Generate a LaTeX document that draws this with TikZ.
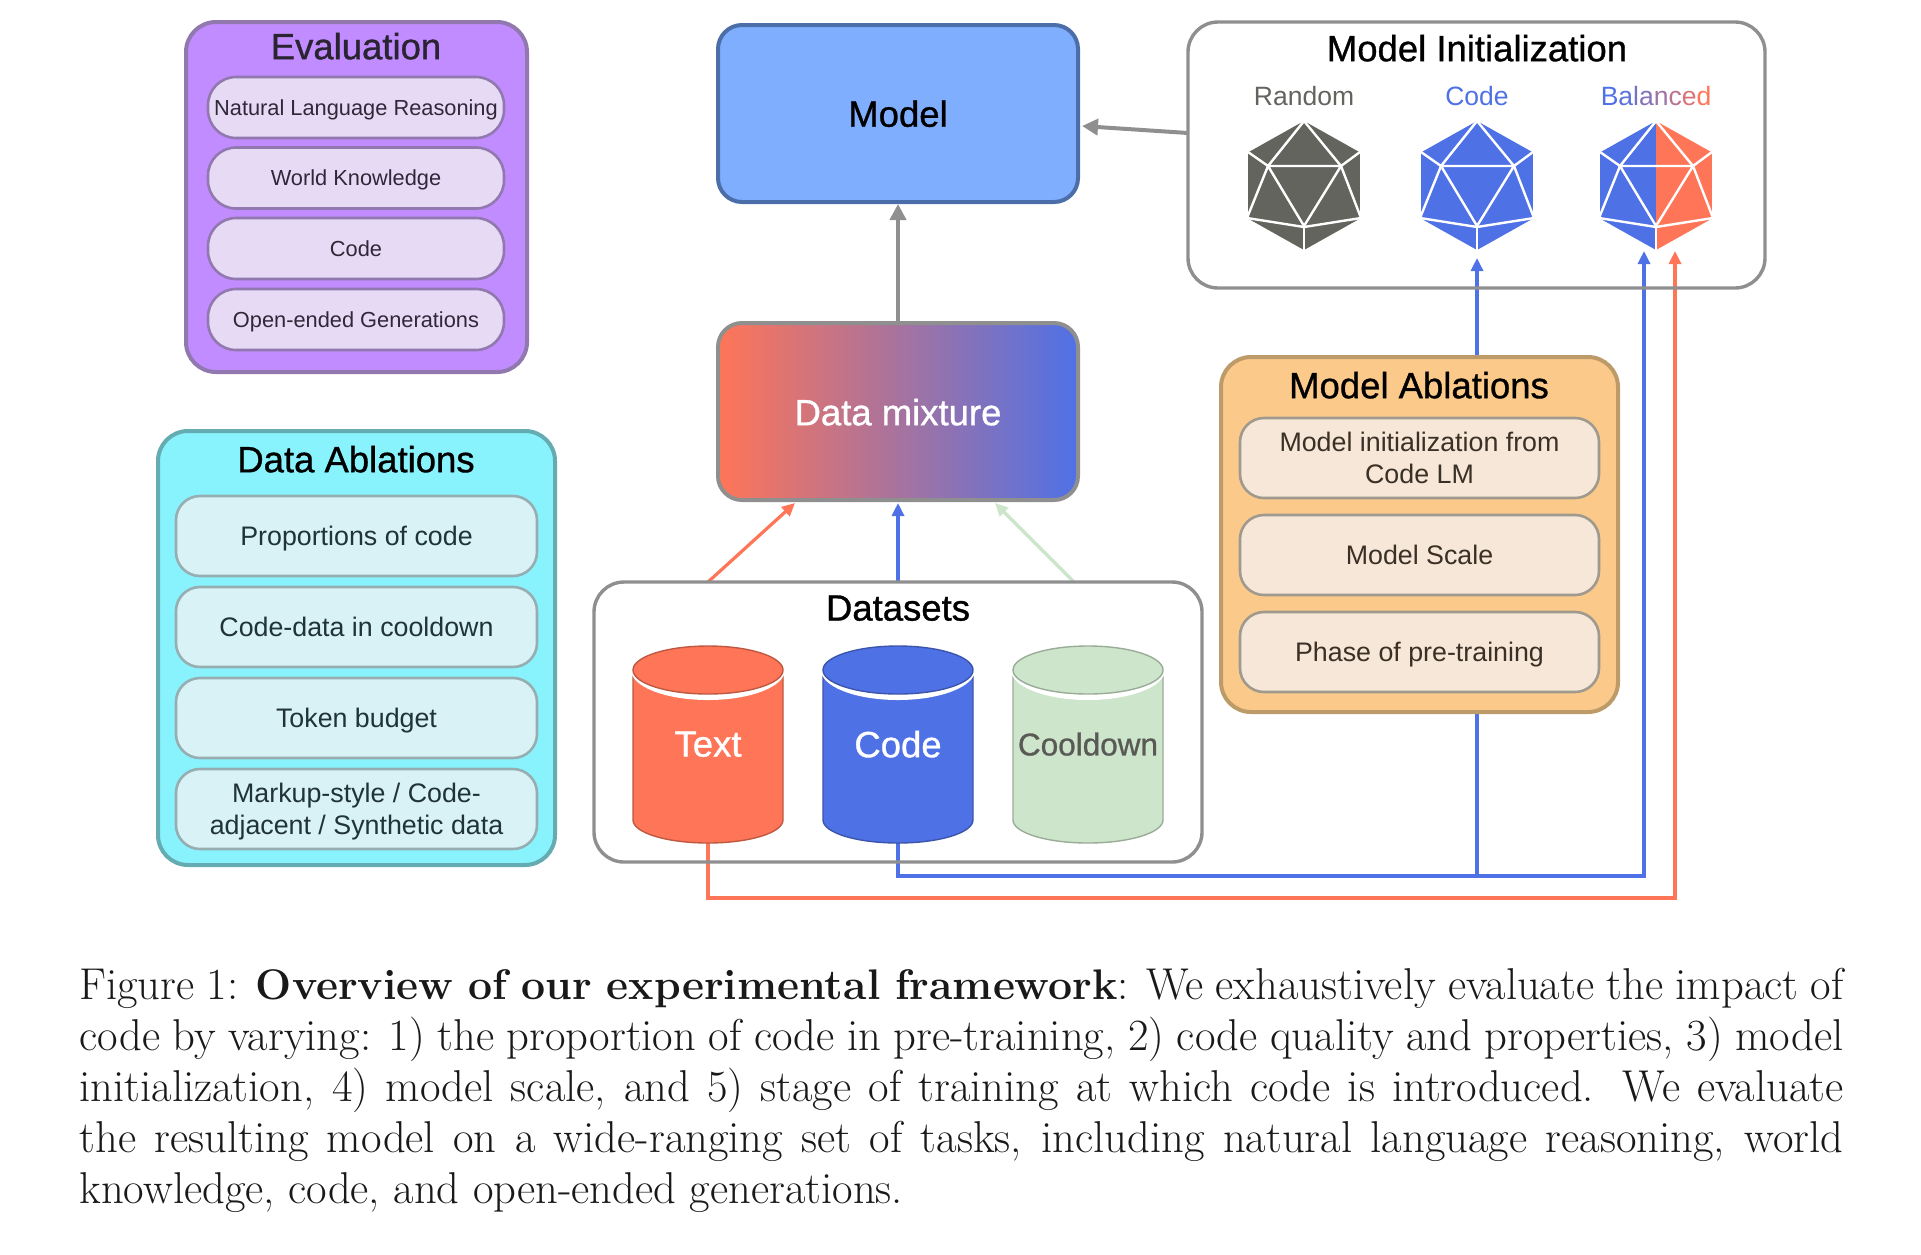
\documentclass[tikz,border=0pt]{standalone}
\usepackage{fontspec}
\setsansfont{Liberation Sans}
\newfontfamily\titlefont[FakeBold=0.9]{Liberation Sans}
\usetikzlibrary{arrows.meta}
\pgfdeclarelayer{conn}
\pgfsetlayers{conn,main}
\definecolor{cOrange}{HTML}{FF7557}
\definecolor{cBlue}{HTML}{4F71E6}
\definecolor{cGreen}{HTML}{CDE5CB}
\definecolor{cGrey}{HTML}{8F8F8F}
\definecolor{cDark}{HTML}{63645E}
\definecolor{cE}{HTML}{E7DAF5}
\definecolor{cEt}{HTML}{2F2838}
\definecolor{cD}{HTML}{D9F2F6}
\definecolor{cDs}{HTML}{96AEB2}
\definecolor{cDt}{HTML}{1F3338}
\definecolor{cM}{HTML}{F6E7D8}
\definecolor{cMs}{HTML}{A09A8E}
\definecolor{cMt}{HTML}{3A3026}
\definecolor{cEv}{HTML}{C18CFF}
\definecolor{cEvS}{HTML}{9179AF}
\definecolor{cDa}{HTML}{88F2FD}
\definecolor{cDaS}{HTML}{64ABB2}
\definecolor{cMo}{HTML}{7FAEFF}
\definecolor{cMoS}{HTML}{4C6EA8}
\definecolor{cMa}{HTML}{FBC98A}
\definecolor{cMaS}{HTML}{BD9B68}
\tikzset{
  x=1pt,y=-1pt,
  every node/.style={inner sep=0pt,outer sep=0pt,font=\sffamily,text depth=0pt},
  frame/.style={draw=cGrey,line width=3.4pt,rounded corners=30pt},
  titletxt/.style={font=\titlefont\fontsize{36.5}{40}\selectfont},
  pilltxt/.style={font=\sffamily\fontsize{26.8}{32}\selectfont,align=center},
  smalltxt/.style={font=\sffamily\fontsize{21.8}{27}\selectfont,align=center},
  evalpill/.style={draw=cEvS,fill=cE,line width=2.6pt,rounded corners=28pt,text=cEt,minimum width=296pt,minimum height=61pt,smalltxt},
  dapill/.style={draw=cDs,fill=cD,line width=2.6pt,rounded corners=24pt,text=cDt,minimum width=361pt,minimum height=80pt,pilltxt},
  mapill/.style={draw=cMs,fill=cM,line width=2.6pt,rounded corners=24pt,text=cMt,minimum width=359pt,minimum height=80pt,pilltxt},
  greyarrow/.style={draw=cGrey,line width=4pt,-{Triangle[length=16pt,width=16pt]}},
  bluearrow/.style={draw=cBlue,line width=3.2pt,-{Triangle[length=13pt,width=12pt]}},
  redarrow/.style={draw=cOrange,line width=3.2pt,-{Triangle[length=13pt,width=12pt]}},
  greenarrow/.style={draw=cGreen,line width=3.2pt,-{Triangle[length=13pt,width=12pt]}},
  icoline/.style={draw=white,line width=2.4pt},
}
\newcommand{\icolines}{%
  \draw[icoline] (0,0)--(-36,45)--(-56,31);
  \draw[icoline] (0,0)--(37,45)--(56,31);
  \draw[icoline] (-36,45)--(37,45)--(0,105)--cycle;
  \draw[icoline] (-36,45)--(-57,97)--(0,106)--(57,97)--(37,45);
  \draw[icoline] (0,105)--(0,129);
  \draw[icoline] (-57,31)--(-57,97);
  \draw[icoline] (57,31)--(57,97);
}
\newcommand{\icohex}{(0,0)--(57,32)--(57,97)--(0,129)--(-57,97)--(-57,32)--cycle}
% cylinder: name, x centre, fill, stroke, text colour, label, size (y axis is flipped: arcs run 180 to 0)
\newcommand{\cylinderbox}[7]{%
  \fill[#3] (#2-75,670)--(#2-75,820) arc[x radius=75,y radius=23,start angle=180,end angle=0]--(#2+75,670)--cycle;
  \draw[#4,line width=1.4pt] (#2-75,670)--(#2-75,820) arc[x radius=75,y radius=23,start angle=180,end angle=0]--(#2+75,670);
  \fill[white] (#2-77,670) arc[x radius=77,y radius=30,start angle=180,end angle=0]--cycle;
  \fill[#3] (#2-75,668) rectangle (#2+75,670);
  \filldraw[fill=#3,draw=#4,line width=1.4pt] (#2,670) ellipse[x radius=75,y radius=24];
  \node[text=#5,font=\titlefont\fontsize{#7}{40}\selectfont,minimum width=150pt,minimum height=197pt] (#1) at (#2,744) {#6};
}
\begin{document}
\begin{tikzpicture}
\useasboundingbox (0,0) rectangle (1921,1254);

% Evaluation
\node[draw=cEvS,fill=cEv,line width=4pt,rounded corners=30pt,minimum width=341pt,minimum height=350pt] (evalbox) at (356.5,197) {};
\node[titletxt,text=cEt!90!black] (evalt) at (356,46) {Evaluation};
\node[evalpill] (e1) at (356,107.5) {Natural Language Reasoning};
\node[evalpill] (e2) at (356,178) {World Knowledge};
\node[evalpill] (e3) at (356,248.5) {Code};
\node[evalpill] (e4) at (356,319.5) {Open-ended Generations};

% Data Ablations
\node[draw=cDaS,fill=cDa,line width=4pt,rounded corners=30pt,minimum width=397pt,minimum height=434pt] (dabox) at (356.5,648) {};
\node[titletxt,text=black] (dat) at (356,459) {Data Ablations};
\node[dapill] (d1) at (356.5,536) {Proportions of code};
\node[dapill] (d2) at (356.5,627) {Code-data in cooldown};
\node[dapill] (d3) at (356.5,718) {Token budget};
\node[dapill] (d4) at (356.5,809) {Markup-style / Code-\\adjacent / Synthetic data};

% Model
\node[draw=cMoS,fill=cMo,line width=4pt,rounded corners=24pt,minimum width=360pt,minimum height=177pt,titletxt,text=black] (model) at (898,113.5) {Model};

% Data mixture
\path[left color=cOrange,right color=cBlue,draw=cGrey,line width=4pt,rounded corners=24pt] (718,323) rectangle (1078,500);
\node[minimum width=360pt,minimum height=177pt,titletxt,text=white] (mix) at (898,412) {Data mixture};

% Model initialization frame
\node[frame,minimum width=577pt,minimum height=266pt] (init) at (1476.5,155) {};
\node[titletxt,text=black] (initt) at (1477,48) {Model Initialization};
\node[font=\sffamily\fontsize{26.5}{32}\selectfont,text=cDark] (lr) at (1304,96) {Random};
\node[font=\sffamily\fontsize{26.5}{32}\selectfont,text=cBlue] (lc) at (1477,96) {Code};
\node[font=\sffamily\fontsize{26.5}{32}\selectfont] (lb) at (1656,96) {\textcolor{cBlue}{B}\textcolor{cBlue!92!cOrange}{a}\textcolor{cBlue!80!cOrange}{l}\textcolor{cBlue!70!cOrange}{a}\textcolor{cBlue!55!cOrange}{n}\textcolor{cBlue!40!cOrange}{c}\textcolor{cBlue!22!cOrange}{e}\textcolor{cOrange}{d}};

% Icosahedra
\node[minimum width=114pt,minimum height=129pt] (ico1) at (1304,185.5) {};
\node[minimum width=114pt,minimum height=129pt] (ico2) at (1477,185.5) {};
\node[minimum width=114pt,minimum height=129pt] (ico3) at (1656,185.5) {};
\begin{scope}[shift={(1304,121)}]
  \fill[cDark] \icohex; \icolines
\end{scope}
\begin{scope}[shift={(1477,121)}]
  \fill[cBlue] \icohex; \icolines
\end{scope}
\begin{scope}[shift={(1656,121)}]
  \begin{scope}
    \clip (-60,-2) rectangle (0,131);
    \fill[cBlue] \icohex;
  \end{scope}
  \begin{scope}
    \clip (0,-2) rectangle (60,131);
    \fill[cOrange] \icohex;
  \end{scope}
  \icolines
\end{scope}

% Model Ablations
\node[draw=cMaS,fill=cMa,line width=4pt,rounded corners=30pt,minimum width=397pt,minimum height=355pt] (mabox) at (1419.5,534.5) {};
\node[titletxt,text=black] (mat) at (1419,385) {Model Ablations};
\node[mapill] (m1) at (1419.5,458) {Model initialization from\\Code LM};
\node[mapill] (m2) at (1419.5,555) {Model Scale};
\node[mapill] (m3) at (1419.5,652) {Phase of pre-training};

% Datasets
\node[frame,minimum width=608pt,minimum height=280pt] (datasets) at (898,722) {};
\node[titletxt,text=black] (dst) at (898,608) {Datasets};
\cylinderbox{ctext}{708}{cOrange}{cOrange!75!black}{white}{Text}{36.5}
\cylinderbox{ccode}{898}{cBlue}{cBlue!75!black}{white}{Code}{36.5}
\cylinderbox{ccool}{1088}{cGreen}{cGreen!75!black}{cDark!90!black}{Cooldown}{31.5}

% Connector end points
\coordinate (railb) at (0,876);
\coordinate (railr) at (0,898);
\coordinate (tipc) at (1477,258);
\coordinate (tipbb) at (1644,251);
\coordinate (tipbr) at (1675,251);
\coordinate (initout) at (1188,133);
\coordinate (modelin) at (1082,126);
\coordinate (dtxt) at (708,582);
\coordinate (dcool) at (1074,582);
\coordinate (mixl) at (795,503);
\coordinate (mixc) at (898,503);
\coordinate (mixr) at (995,503);

\begin{pgfonlayer}{conn}
  \draw[greyarrow] (initout)--(modelin);
  \draw[greyarrow] (mix.north)--([yshift=-2pt]model.south);
  \draw[redarrow] (dtxt)--(mixl);
  \draw[bluearrow] (datasets.north)--(mixc);
  \draw[greenarrow] (dcool)--(mixr);
  \draw[bluearrow] (ccode.south)--(ccode.south |- railb)-|(tipc);
  \draw[bluearrow] (ccode.south)--(ccode.south |- railb)-|(tipbb);
  \draw[redarrow] (ctext.south)--(ctext.south |- railr)-|(tipbr);
\end{pgfonlayer}

% Caption
\node[anchor=north west,text width=1764pt,align=justify,font=\rmfamily\fontsize{44.6}{51}\selectfont,text=black!90,text depth=] (cap) at (79.5,968.5) {\tolerance=9999\hbadness=10000 Figure 1: {\fontsize{42.8}{51}\selectfont\textbf{Overview of our experimental framework}}: We exhaustively evaluate the impact of\linebreak code by varying: 1) the proportion of code in pre-training, 2) code quality and properties, 3) model\linebreak initialization, 4) model scale, and 5) stage of training at which code is introduced. We evaluate\linebreak the resulting model on a wide-ranging set of tasks, including natural language reasoning, world\linebreak knowledge, code, and open-ended generations.};
\end{tikzpicture}
\end{document}
